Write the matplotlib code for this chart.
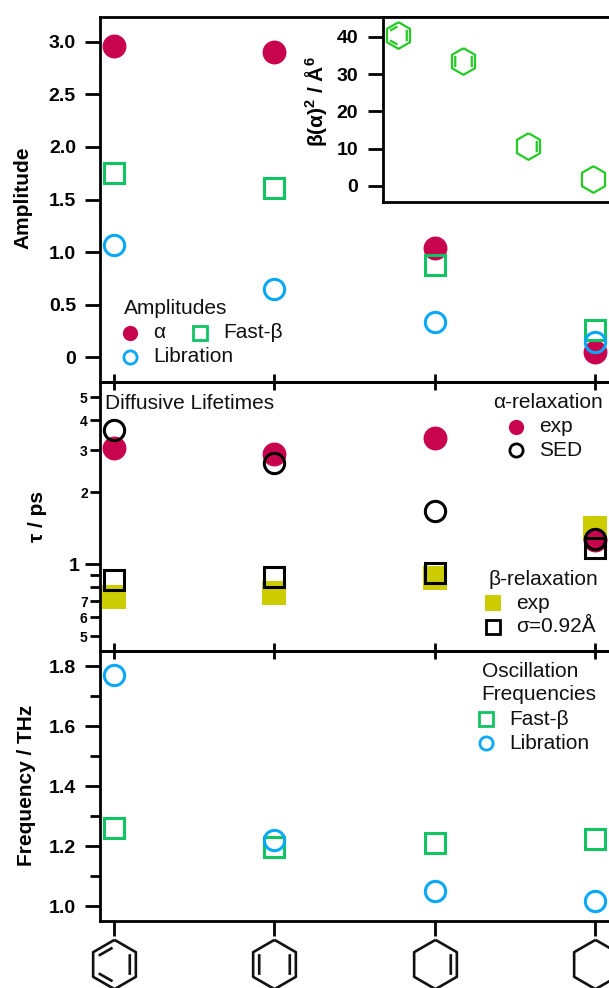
import matplotlib
matplotlib.use("Agg")
import matplotlib.pyplot as plt
from matplotlib.lines import Line2D
from matplotlib.path import Path
from matplotlib.ticker import FixedLocator, FixedFormatter, NullFormatter

plt.rcParams['font.family'] = ['Liberation Sans', 'DejaVu Sans']
plt.rcParams['mathtext.fontset'] = 'custom'
plt.rcParams['mathtext.rm'] = 'Liberation Sans:bold'
plt.rcParams['mathtext.bf'] = 'Liberation Sans:bold'
plt.rcParams['mathtext.default'] = 'bf'

# ---------- data ----------
molecules = [0, 1, 2, 3]
amp_alpha = [2.96, 2.90, 1.04, 0.05]
amp_fast = [1.755, 1.606, 0.877, 0.26]
amp_lib = [1.067, 0.65, 0.333, 0.148]
tau_alpha_exp = [3.05, 2.89, 3.36, 1.264]
tau_alpha_sed = [3.64, 2.66, 1.67, 1.27]
tau_beta_exp = [0.732, 0.756, 0.874, 1.414]
tau_beta_sim = [0.86, 0.887, 0.917, 1.173]
freq_fast = [1.26, 1.198, 1.21, 1.224]
freq_lib = [1.771, 1.221, 1.051, 1.018]
inset_beta = [40.5, 33.5, 10.8, 1.9]
amp_ticks = [0, 0.5, 1.0, 1.5, 2.0, 2.5, 3.0]
amp_labels = ['0', '0.5', '1.0', '1.5', '2.0', '2.5', '3.0']
inset_ticks = [0, 10, 20, 30, 40]
tau_minor = [0.5, 0.6, 0.7, 0.8, 0.9, 2, 3, 4, 5]
tau_minor_labels = ['5', '6', '7', '', '', '2', '3', '4', '5']
freq_ticks = [1.0, 1.2, 1.4, 1.6, 1.8]
freq_labels = ['1.0', '1.2', '1.4', '1.6', '1.8']
freq_minor = [1.1, 1.3, 1.5, 1.7]

# ---------- style ----------
W, H = 609, 988
RED = '#C9044F'
GREEN = '#10C463'
BLUE = '#08A8F8'
OLIVE = '#CCCC00'
ICON_GREEN = '#22CC22'
FS = 15
LW = 2.0
fig = plt.figure(figsize=(W / 100, H / 100), dpi=100, facecolor='white')


def axpx(l, t, r, b, **kw):
    return fig.add_axes([l / W, 1 - b / H, (r - l) / W, (b - t) / H], **kw)


def label(x, y, s, **kw):
    kw.setdefault('fontsize', FS)
    kw.setdefault('va', 'center')
    kw.setdefault('color', '#111111')
    fig.text(x / W, 1 - y / H, s, **kw)


def key(x, y, **kw):
    fig.add_artist(Line2D([x / W], [1 - y / H], transform=fig.transFigure,
                          linestyle='none', **kw))


circ_f = dict(marker='o', ms=17.2, mew=0, linestyle='none')
sq_f = dict(marker='s', ms=17.3, mew=0, linestyle='none')


def open_m(marker, color, ms=14.6, mew=2.2):
    return dict(marker=marker, ms=ms, mew=mew, mfc='none', mec=color)


def style(ax):
    ax.patch.set_visible(False)
    for s in ax.spines.values():
        s.set_linewidth(LW)
    ax.spines['right'].set_linewidth(0.6)
    ax.spines['right'].set_color('#888888')
    ax.set_xlim(-0.0847, 3.085)
    ax.set_xticks(molecules)
    ax.set_xticklabels([])
    ax.tick_params(axis='y', which='major', length=11, width=LW, labelsize=14, pad=6.5)
    ax.tick_params(axis='y', which='minor', length=7, width=LW)
    for t in ax.get_yticklabels():
        t.set_fontweight('bold')


# ---------- top panel ----------
ax1 = axpx(100.2, 16.7, 609, 381.7)
style(ax1)
ax1.set_ylim(-0.232, 3.238)
ax1.set_yticks(amp_ticks)
ax1.set_yticklabels(amp_labels, fontweight='bold')
ax1.tick_params(axis='x', direction='inout', length=12.2, width=LW)
ax1.plot(molecules, amp_alpha, color=RED, **circ_f)
ax1.plot(molecules, amp_fast, linestyle='none', **open_m('s', GREEN))
ax1.plot(molecules, amp_lib, linestyle='none', **open_m('o', BLUE))

# ---------- middle panel ----------
ax2 = axpx(100.2, 381.7, 609, 651)
style(ax2)
ax2.set_yscale('log')
ax2.set_ylim(0.434, 5.80)
ax2.yaxis.set_major_locator(FixedLocator([1]))
ax2.yaxis.set_major_formatter(FixedFormatter(['1']))
ax2.yaxis.set_minor_locator(FixedLocator(tau_minor))
ax2.yaxis.set_minor_formatter(FixedFormatter(tau_minor_labels))
ax2.tick_params(axis='y', which='major', pad=3.5)
ax2.tick_params(axis='y', which='minor', labelsize=10, pad=2)
for t in ax2.get_yticklabels(which='both'):
    t.set_fontweight('bold')
ax2.set_xticks(molecules)
ax2.tick_params(axis='x', direction='inout', length=12.2, width=LW)
ax2.plot(molecules, tau_beta_exp, color=OLIVE, **sq_f)
ax2.plot(molecules, tau_alpha_exp, color=RED, **circ_f)
ax2.plot(molecules, tau_beta_sim, linestyle='none', **open_m('s', 'black'))
ax2.plot(molecules, tau_alpha_sed, linestyle='none', **open_m('o', 'black'))

# ---------- bottom panel ----------
ax3 = axpx(100.2, 651, 609, 920.7)
style(ax3)
ax3.set_ylim(0.952, 1.85)
ax3.set_yticks(freq_ticks)
ax3.set_yticklabels(freq_labels, fontweight='bold')
ax3.yaxis.set_minor_locator(FixedLocator(freq_minor))
ax3.yaxis.set_minor_formatter(NullFormatter())
ax3.tick_params(axis='x', direction='out', length=11, width=LW)
ax3.plot(molecules, freq_fast, linestyle='none', **open_m('s', GREEN))
ax3.plot(molecules, freq_lib, linestyle='none', **open_m('o', BLUE))

# ---------- molecule glyphs ----------
hx = [(0, 1), (0.866, 0.5), (0.866, -0.5), (0, -1), (-0.866, -0.5), (-0.866, 0.5), (0, 1)]
R_LINE = [(0.62, 0.42), (0.62, -0.42)]
L_LINE = [(-0.62, 0.42), (-0.62, -0.42)]
UL_LINE = [(-0.64, 0.36), (-0.08, 0.68)]
LL_LINE = [(-0.64, -0.36), (-0.08, -0.68)]


def mol(*inner):
    v = list(hx)
    c = [Path.MOVETO] + [Path.LINETO] * 6
    for seg in inner:
        v += seg
        c += [Path.MOVETO, Path.LINETO]
    return Path(v, c)


glyphs = [mol(R_LINE, UL_LINE, LL_LINE), mol(R_LINE, L_LINE), mol(R_LINE), mol()]

# black glyphs below the bottom axis (share its x scale)
glyph_y = -(964 - 920.7) / (920.7 - 651)
for i, g in zip(molecules, glyphs):
    ax3.plot([i], [glyph_y], transform=ax3.get_xaxis_transform(), clip_on=False,
             marker=g, ms=35.5, mew=1.9, mfc='none', mec='#111111', linestyle='none')

# ---------- inset ----------
ins = axpx(382.5, 16.7, 609, 202.3, zorder=5)
for s in ins.spines.values():
    s.set_linewidth(LW)
ins.spines['right'].set_linewidth(0.6)
ins.spines['right'].set_color('#888888')
ins.set_xlim(-0.244, 3.25)
ins.set_ylim(-4.37, 45.36)
ins.set_xticks([])
ins.set_yticks(inset_ticks)
ins.tick_params(axis='y', length=11, width=LW, labelsize=14, pad=6.5)
for t in ins.get_yticklabels():
    t.set_fontweight('bold')
for i, v, g in zip(molecules, inset_beta, glyphs):
    ins.plot([i], [v], marker=g, ms=19.2, mew=1.6, mfc='none', mec=ICON_GREEN,
             linestyle='none', clip_on=False)

# ---------- axis labels ----------
bold = dict(fontweight='bold', rotation=90, ha='center', color='black')
label(22.5, 198, 'Amplitude', **bold)
label(37.7, 516.7, 'τ / ps', **bold)
label(26, 785.7, 'Frequency / THz', **bold)
label(316, 102, 'β(α)$^{2}$ / Å$^{6}$', zorder=10, **bold)

# ---------- annotations / legends ----------
label(124, 308, 'Amplitudes')
key(130, 333, marker='o', ms=11, mew=0, color=RED)
label(153.4, 333, 'α')
key(200, 333, **open_m('s', GREEN, ms=9.5, mew=2))
label(223.7, 333, 'Fast-β')
key(130, 356.7, **open_m('o', BLUE, ms=9.5, mew=2))
label(153.4, 356.7, 'Libration')

label(105, 403.3, 'Diffusive Lifetimes')
label(493, 402.7, 'α-relaxation')
key(515.7, 426.7, marker='o', ms=11, mew=0, color=RED)
label(539, 426.7, 'exp')
key(515.7, 450, **open_m('o', 'black', ms=9.5, mew=2))
label(539, 450, 'SED')
label(488.5, 579.3, 'β-relaxation')
key(493, 603.3, marker='s', ms=11, mew=0, color=OLIVE)
label(516.5, 603.3, 'exp')
key(493, 626.7, **open_m('s', 'black', ms=9.5, mew=2))
label(516.5, 626.7, 'σ=0.92Å')

label(481.6, 671.7, 'Oscillation')
label(481.6, 695, 'Frequencies')
key(485.8, 719.3, **open_m('s', GREEN, ms=9.5, mew=2))
label(509.5, 719.3, 'Fast-β')
key(485.8, 743.3, **open_m('o', BLUE, ms=9.5, mew=2))
label(509.5, 743.3, 'Libration')

fig.savefig('out.png', dpi=100, facecolor='white')
